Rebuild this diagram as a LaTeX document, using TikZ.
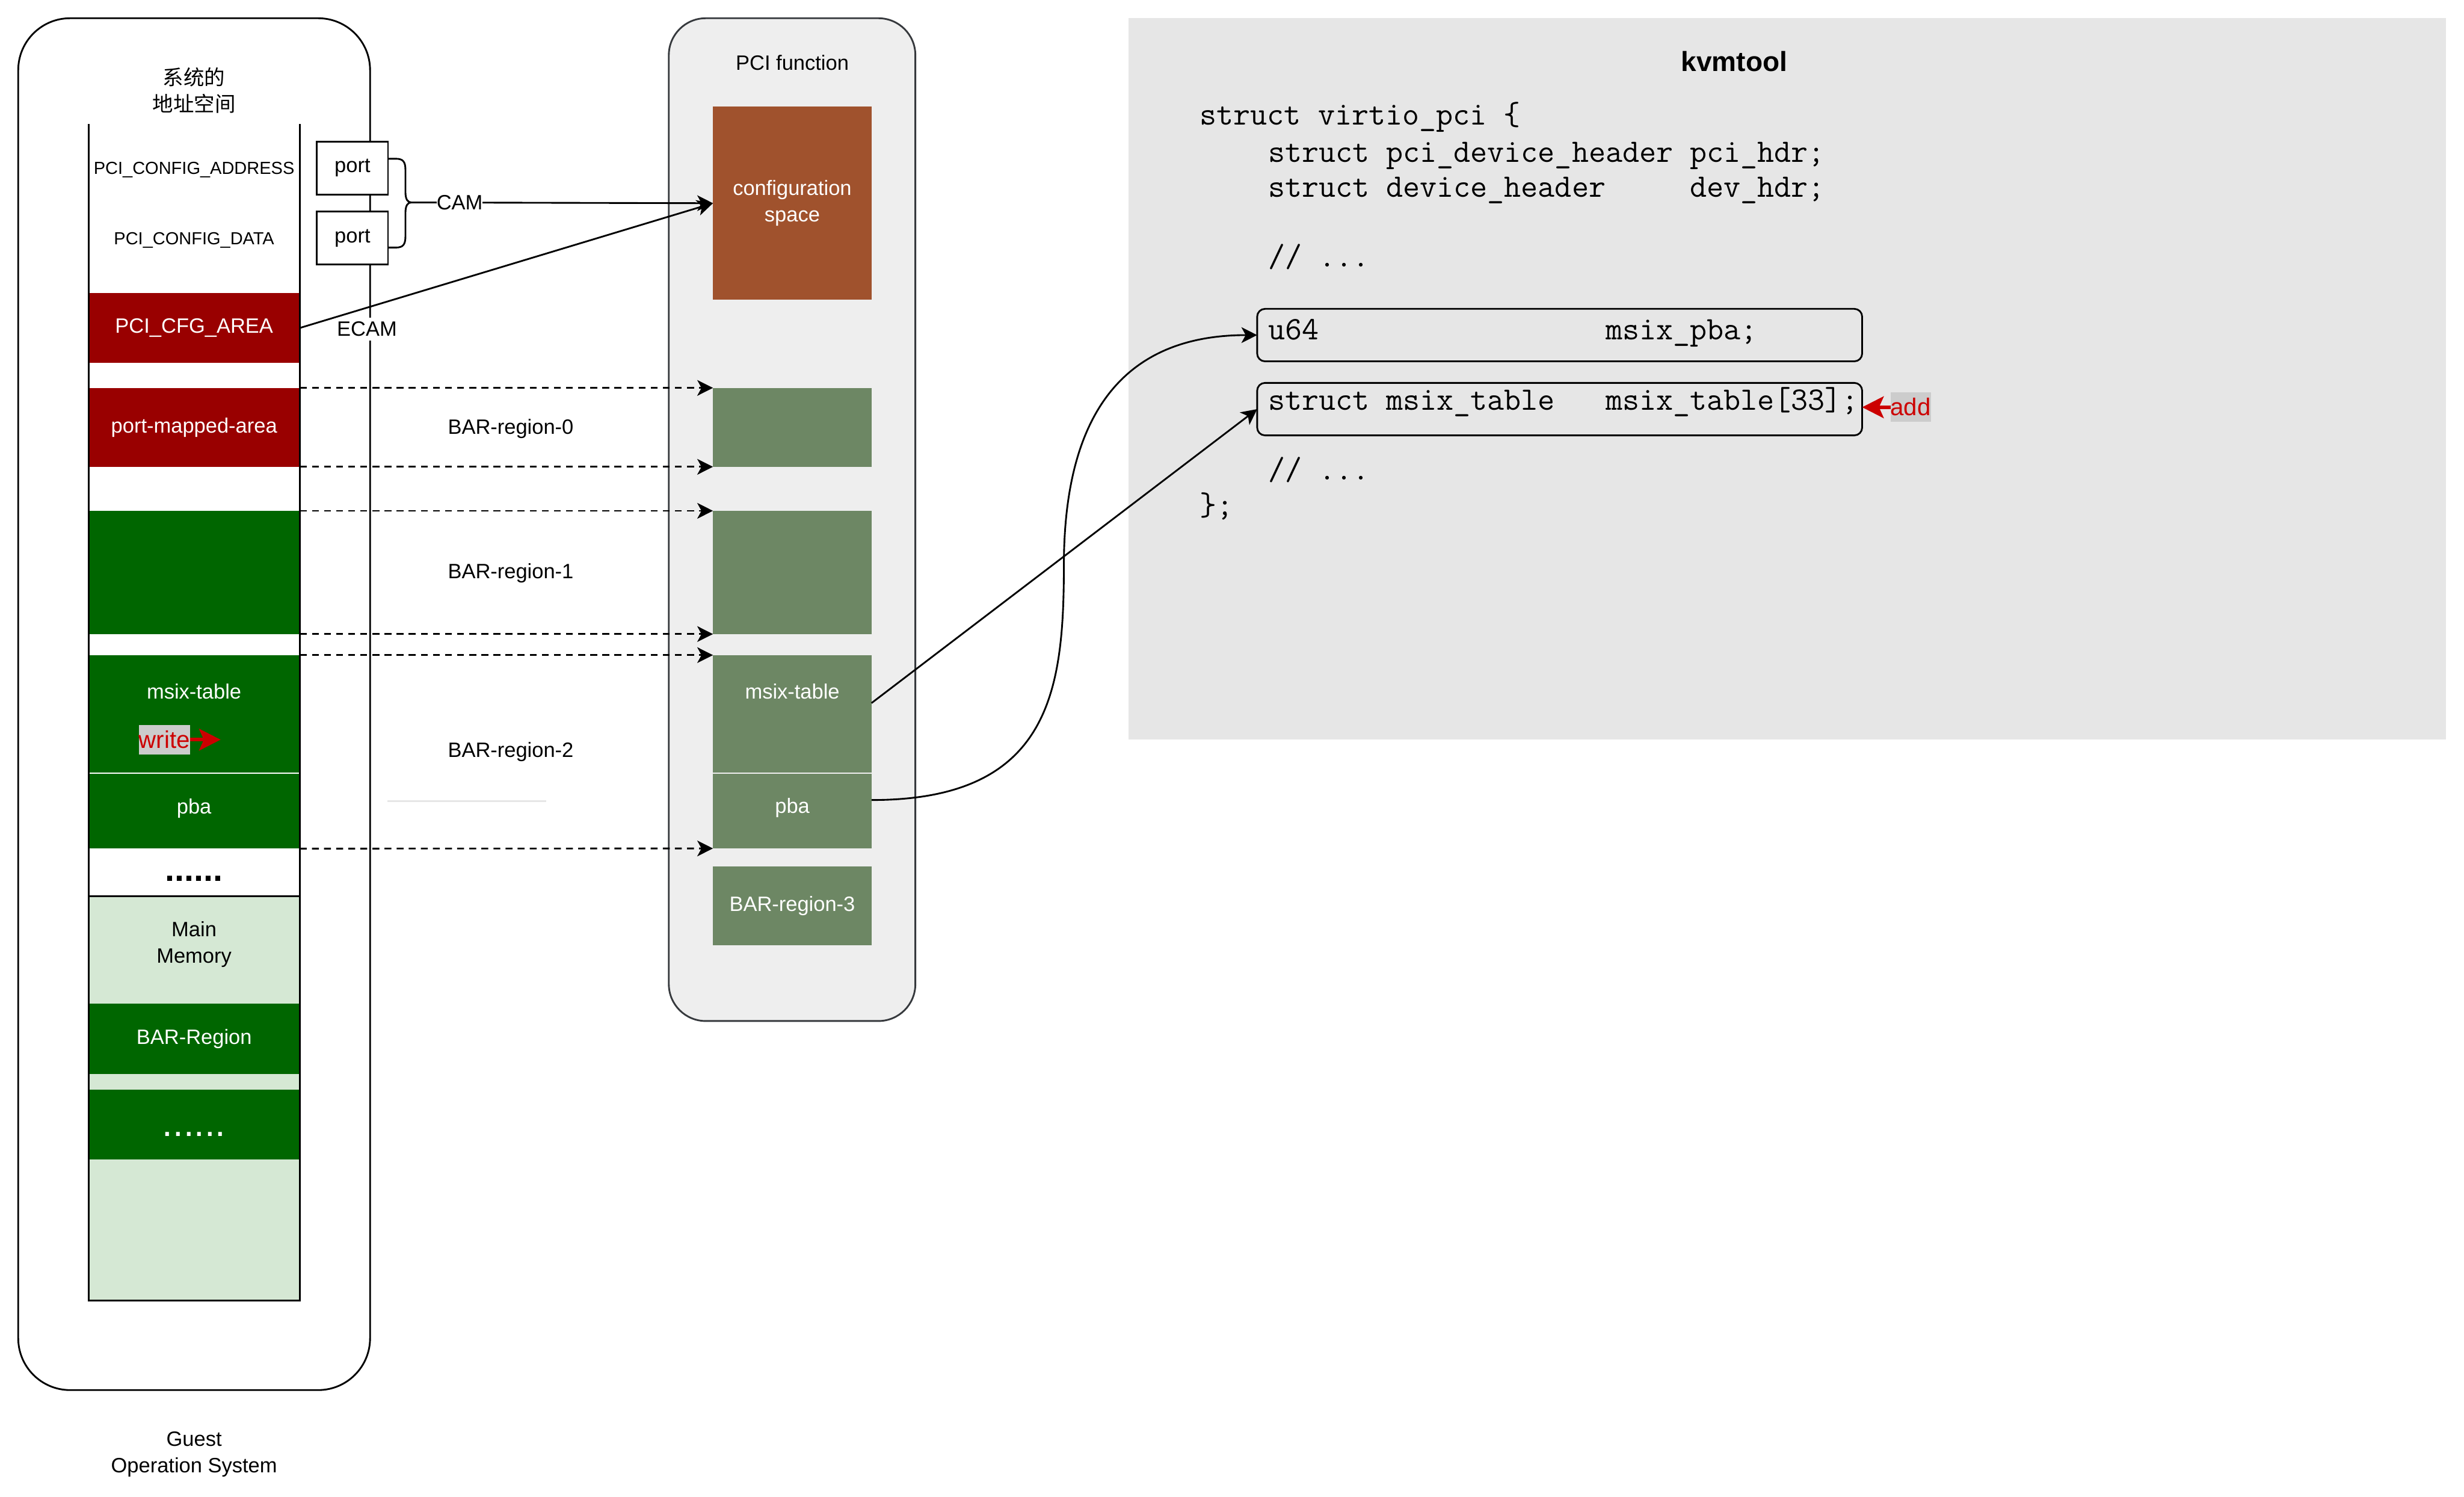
\documentclass[tikz,border=0pt]{standalone}
\usepackage{fontspec}
\setmainfont{Liberation Sans}
\newfontfamily\cjkfont{Noto Sans CJK SC}
\usetikzlibrary{arrows.meta}
\definecolor{cfgred}{HTML}{990000}
\definecolor{memgreen}{HTML}{006600}
\definecolor{lightgreen}{HTML}{D5E8D4}
\definecolor{pcigreen}{HTML}{6D8764}
\definecolor{cfgbrown}{HTML}{A0522D}
\definecolor{pcifill}{HTML}{EEEEEE}
\definecolor{pcistroke}{HTML}{36393D}
\definecolor{kvmgray}{HTML}{E6E6E6}
\definecolor{taggray}{HTML}{CCCCCC}
\definecolor{redtxt}{HTML}{CC0000}
\newcommand{\myLbl}{\fontsize{13.2}{16.8}\selectfont}
\newcommand{\mySmall}{\fontsize{11.1}{13.5}\selectfont}
\newcommand{\myCode}{\fontsize{20.85}{24}\ttfamily\selectfont}
\newcommand{\myTag}{\fontsize{15.4}{18}\selectfont}
\newcommand{\myTitle}{\fontsize{17.6}{21}\selectfont\bfseries}
\begin{document}
\begin{tikzpicture}[x=1pt,y=-1pt,
  base/.style={inner sep=0pt, outer sep=0pt},
  blk/.style={base, rectangle, anchor=north west},
  lbl/.style={base, font=\myLbl, text height=11.95pt, text depth=2.8pt},
  mlbl/.style={base, font=\myLbl, align=center},
  smalllbl/.style={base, font=\mySmall, text height=10.05pt, text depth=2.35pt},
  codeln/.style={base, font=\myCode, anchor=base west},
  tag/.style={base, fill=taggray, text=redtxt, font=\myTag, text height=13.9pt, text depth=3.3pt, minimum height=18.8pt},
  outline/.style={draw=black, line width=1.1pt},
  conn/.style={line width=1.1pt, -{Stealth[length=10pt,width=10pt,inset=2.7pt]}},
  dconn/.style={conn, dash pattern=on 4.4pt off 3.3pt},
  redarrow/.style={line width=2.2pt, draw=redtxt, -{Stealth[length=13.7pt,width=13.8pt,inset=3pt]}, fill=redtxt},
]
\useasboundingbox (0,0) rectangle (1568,952.4);

% ---------- Guest OS ----------
\node[blk, outline, rounded corners=33pt, minimum width=223.9pt, minimum height=872.8pt] (guest) at (11.6,11.6) {};
\node[base, font=\cjkfont\fontsize{13.2}{16.8}\selectfont, align=center] (addrlbl) at (123.5,57.4) {系统的\\地址空间};
\node[mlbl] (guestlbl) at (123.5,925.3) {Guest\\Operation System};

% memory blocks
\node[blk, fill=lightgreen, outline, minimum width=134.5pt, minimum height=257.2pt] (mainmem) at (56.3,570.2) {};
\node[blk, fill=cfgred, minimum width=134.5pt, minimum height=44.7pt, text=white, font=\myLbl] (cfgarea) at (56.3,186.3) {PCI\_CFG\_AREA};
\node[blk, fill=cfgred, minimum width=134.5pt, minimum height=50.2pt, text=white, font=\myLbl] (portarea) at (56.3,246.8) {port-mapped-area};
\node[blk, fill=memgreen, minimum width=134.5pt, minimum height=78.4pt] (bar1L) at (56.3,325) {};
\node[blk, fill=memgreen, minimum width=134.5pt, minimum height=74.6pt] (msixL) at (56.3,416.8) {};
\node[blk, fill=memgreen, minimum width=134.5pt, minimum height=47.7pt] (pbaL) at (56.3,492.2) {};
\node[blk, fill=memgreen, minimum width=134.5pt, minimum height=45pt, text=white, font=\myLbl] (barregL) at (56.3,638.4) {BAR-Region};
\node[blk, fill=memgreen, minimum width=134.5pt, minimum height=44.4pt] (dotsL) at (56.3,693.3) {};
\draw[line width=1.1pt] (56.3,79) -- (56.3,827.4) -- (190.8,827.4) -- (190.8,79);

\node[smalllbl] (cfgaddr) at (123.5,106.9) {PCI\_CONFIG\_ADDRESS};
\node[smalllbl] (cfgdata) at (123.5,151.6) {PCI\_CONFIG\_DATA};
\node[lbl, text=white] (msixLlbl) at (123.5,440.2) {msix-table};
\node[lbl, text=white] (pbaLlbl) at (123.5,513.2) {pba};
\node[base, font=\fontsize{22}{26}\selectfont\bfseries, anchor=base] (dotsblack) at (123.5,560.6) {......};
\node[mlbl] (mainlbl) at (123.5,600.8) {Main\\Memory};
\node[base, font=\fontsize{24.2}{28}\selectfont, text=white, anchor=base] (dotswhite) at (123.5,723) {......};

% write tag
\node[tag] (writelbl) at (104.6,470.6) {write};
\coordinate (writetip) at (140.4,470.6);
\draw[redarrow] (writelbl.east) -- (writetip);

% ports and brace
\node[blk, outline, fill=white, minimum width=45.2pt, minimum height=33.8pt, font=\myLbl] (port1) at (201.7,90) {port};
\node[blk, outline, fill=white, minimum width=45.2pt, minimum height=33.7pt, font=\myLbl] (port2) at (201.7,134.6) {port};
\coordinate (bracetip) at (261.8,128.8);
\draw[line width=1.1pt] (247,101) -- (252,101) .. controls (256.5,101) and (258,103) .. (258,108) -- (258,122) .. controls (258,127) and (259.5,128.8) .. (bracetip) .. controls (259.5,128.8) and (258,130.6) .. (258,135.6) -- (258,150.5) .. controls (258,155.5) and (256.5,157.5) .. (252,157.5) -- (247,157.5);

% ---------- PCI function ----------
\node[blk, fill=pcifill, draw=pcistroke, line width=1.1pt, rounded corners=23.5pt, minimum width=156.9pt, minimum height=638pt] (pcifunc) at (425.6,11.6) {};
\node[lbl] (pcilbl) at (504.2,40.1) {PCI function};
\node[blk, fill=cfgbrown, minimum width=100.9pt, minimum height=123pt, text=white, font=\myLbl, align=center] (config) at (453.7,67.8) {configuration\\space};
\node[blk, fill=pcigreen, minimum width=100.9pt, minimum height=50.2pt] (bar0) at (453.7,246.8) {};
\node[blk, fill=pcigreen, minimum width=100.9pt, minimum height=78.4pt] (bar1R) at (453.7,325) {};
\node[blk, fill=pcigreen, minimum width=100.9pt, minimum height=74.6pt] (msixR) at (453.7,416.8) {};
\node[blk, fill=pcigreen, minimum width=100.9pt, minimum height=47.6pt] (pbaR) at (453.7,492.2) {};
\node[blk, fill=pcigreen, minimum width=100.9pt, minimum height=50.3pt, text=white, font=\myLbl] (bar3) at (453.7,551.2) {BAR-region-3};
\node[lbl, text=white] (msixRlbl) at (504.2,440.1) {msix-table};
\node[lbl, text=white] (pbaRlbl) at (504.2,512.8) {pba};

% BAR region labels
\node[lbl] (bar0lbl) at (325,271.7) {BAR-region-0};
\node[lbl] (bar1lbl) at (325,363.4) {BAR-region-1};
\node[lbl] (bar2lbl) at (325,477.2) {BAR-region-2};
\draw[draw=kvmgray, line width=1.1pt] (246.7,509.6) -- (347.5,509.6);

% ---------- kvmtool ----------
\node[blk, fill=kvmgray, minimum width=838.5pt, minimum height=458.7pt] (kvm) at (718,11.6) {};
\node[base, font=\myTitle, text height=15.9pt, text depth=3.7pt] (kvmlbl) at (1103.6,39.4) {kvmtool};
\node[codeln] (c1) at (763.6,79.4) {struct\ virtio\_pci\ \{};
\node[codeln] (c2) at (807,103.1) {struct\ pci\_device\_header\ pci\_hdr;};
\node[codeln] (c3) at (807,125.4) {struct\ device\_header\ \ \ \ \ dev\_hdr;};
\node[codeln] (c4) at (807,169.7) {//\ ...};
\node[blk, outline, rounded corners=5pt, minimum width=385pt, minimum height=33.4pt] (pbafield) at (800,196.5) {};
\node[blk, outline, rounded corners=5pt, minimum width=385pt, minimum height=33.4pt] (msixfield) at (800,243.6) {};
\node[codeln] (c5) at (807,216) {u64\ \ \ \ \ \ \ \ \ \ \ \ \ \ \ \ \ msix\_pba;};
\node[codeln] (c6) at (807,260.7) {struct\ msix\_table\ \ \ msix\_table[33];};
\node[codeln] (c7) at (807,305.4) {//\ ...};
\node[codeln] (c8) at (763.6,327.7) {\};};
\node[tag] (addlbl) at (1215.85,259.1) {add};
\draw[redarrow] (addlbl.west) -- (addlbl.west -| msixfield.east);

% ---------- connectors ----------
\draw[conn] (bracetip) -- (config.west) node[lbl, fill=white, pos=0.16] (camlbl) {CAM};
\draw[conn] (cfgarea.east) -- (config.west);
\node[lbl, fill=white, inner xsep=0.5pt] (ecamlbl) at (233.5,209.4) {ECAM};

\draw[dconn] (portarea.north east) -- (bar0.north west);
\draw[dconn] (portarea.south east) -- (bar0.south west);
\draw[dconn] (bar1L.north east) -- (bar1R.north west);
\draw[dconn] (bar1L.south east) -- (bar1R.south west);
\draw[dconn] (msixL.north east) -- (msixR.north west);
\draw[dconn] (pbaL.south east) -- (pbaR.south west);

\draw[conn] ([yshift=6.8pt]msixR.east) -- (msixfield.west);
\draw[conn] ([yshift=7pt]pbaR.east) .. controls (668,509) and (677,440) .. (677,360) .. controls (677,270) and (710,213.2) .. (pbafield.west);
\end{tikzpicture}
\end{document}
